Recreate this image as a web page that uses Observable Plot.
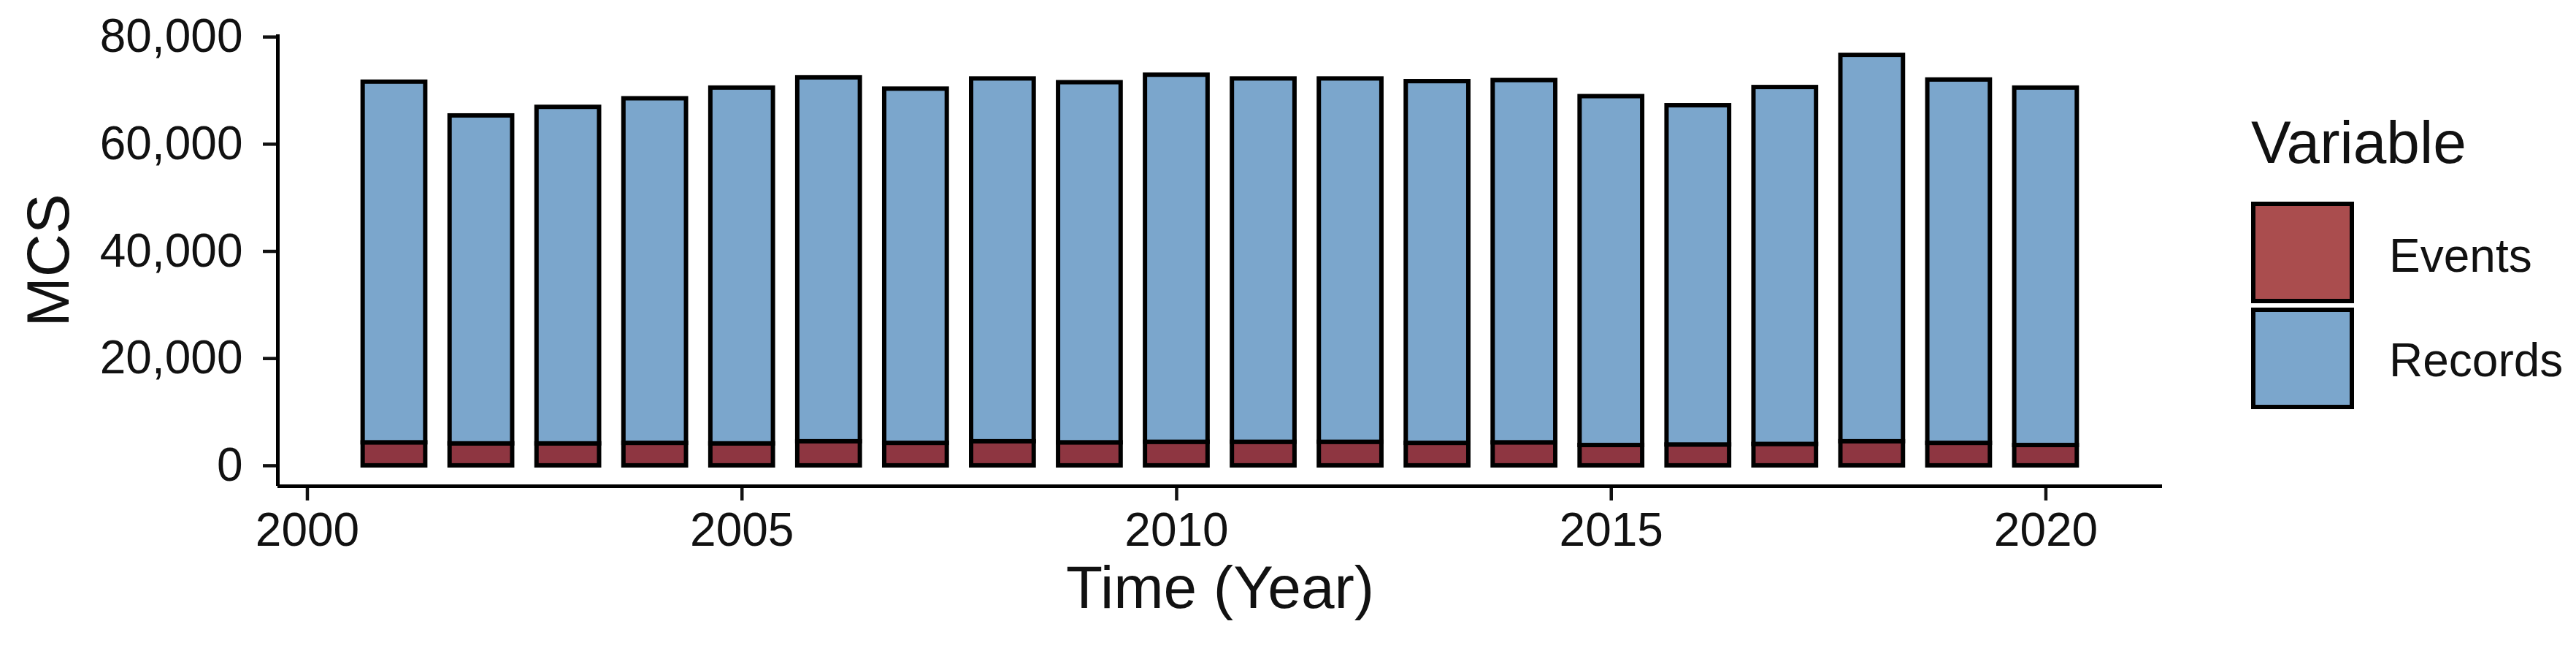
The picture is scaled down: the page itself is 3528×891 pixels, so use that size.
<!DOCTYPE html>
<html><head><meta charset="utf-8">
<script src="https://cdn.jsdelivr.net/npm/d3@7"></script>
<script src="https://cdn.jsdelivr.net/npm/@observablehq/plot@0.6"></script>
<style>
html,body{margin:0;padding:0;background:#fff;}
#wrap{position:relative;width:3528px;height:891px;font-family:"Liberation Sans",Arial,Helvetica,sans-serif;}
#wrap svg{position:absolute;left:0;top:0;}
.lg{position:absolute;line-height:1;color:#111;white-space:nowrap;}
.key{position:absolute;box-sizing:border-box;border:6px solid #000;}
</style></head><body><div id="wrap"></div>
<script>
// ---- data ----
const years   = [2001,2002,2003,2004,2005,2006,2007,2008,2009,2010,2011,2012,2013,2014,2015,2016,2017,2018,2019,2020];
const events  = [4300,4100,4100,4200,4100,4500,4200,4500,4300,4400,4400,4400,4200,4300,3800,3900,4000,4500,4200,3800];
const records = [67300,61200,62800,64300,66400,67900,66100,67700,67200,68500,67800,67800,67500,67600,65100,63300,66600,72100,67800,66700];
const variables = ["Events","Records"];
const barColors = ["#8E3641","#7BA6CC"];
const legendColors = ["#AA4D4E","#7BA6CC"];
const xTicks = [2000,2005,2010,2015,2020];
const yTicks = [0,20000,40000,60000,80000];
const xDomain = [1999.66, 2021.34];
const yDomain = [-3830, 80430];
const barWidth = 0.72;
const xTitle = "Time (Year)";
const yTitle = "MCS";
const legendTitle = "Variable";

const rows = [];
years.forEach((y,i)=>rows.push({year:y, variable:variables[0], value:events[i]}));
years.forEach((y,i)=>rows.push({year:y, variable:variables[1], value:records[i]}));

const font = '"Liberation Sans", Arial, Helvetica, sans-serif';

const chart = Plot.plot({
  width: 3528, height: 891,
  marginLeft: 380, marginRight: 567, marginTop: 47, marginBottom: 226,
  style: {fontFamily: font, fontSize: "64px", color: "#111", background: "white", overflow: "visible"},
  x: {domain: xDomain, label: null},
  y: {domain: yDomain, label: null},
  color: {domain: variables, range: barColors},
  marks: [
    Plot.rectY(rows, Plot.stackY({
      x1: d => d.year - barWidth/2,
      x2: d => d.year + barWidth/2,
      y: "value", fill: "variable", stroke: "#000", strokeWidth: 6
    })),
    Plot.axisX({ticks: xTicks, tickFormat: d => String(d), tickSize: 20, tickPadding: 16, strokeWidth: 4.5, fontSize: 64, label: null}),
    Plot.axisY({ticks: yTicks, tickFormat: d3.format(","), tickSize: 20, tickPadding: 28, strokeWidth: 4.5, fontSize: 64, label: null}),
    Plot.ruleX([xDomain[0]], {stroke: "#000", strokeWidth: 5}),
    Plot.ruleY([yDomain[0]], {stroke: "#000", strokeWidth: 5}),
    Plot.text([yTitle], {frameAnchor: "left", rotate: -90, dx: -345, textAnchor: "middle", lineAnchor: "top", fontSize: 82, fill: "#111"}),
    Plot.text([xTitle], {frameAnchor: "bottom", dy: 166, textAnchor: "middle", fontSize: 82, fill: "#111"})
  ]
});

const wrap = document.getElementById("wrap");
wrap.appendChild(chart);

// legend (HTML)
function addDiv(cls, text, style){
  const d = document.createElement("div");
  d.className = cls;
  if (text) d.textContent = text;
  Object.assign(d.style, style);
  wrap.appendChild(d);
  return d;
}
addDiv("lg", legendTitle, {left: "3083px", top: "154px", fontSize: "82px"});
const keyTops = [276, 421];
const labelTops = [318, 461];
variables.forEach((v,i)=>{
  addDiv("key", "", {left: "3083px", top: keyTops[i]+"px", width: "141px", height: "139px", background: legendColors[i]});
  addDiv("lg", v, {left: "3272px", top: labelTops[i]+"px", fontSize: "64px"});
});
</script>
</body></html>
